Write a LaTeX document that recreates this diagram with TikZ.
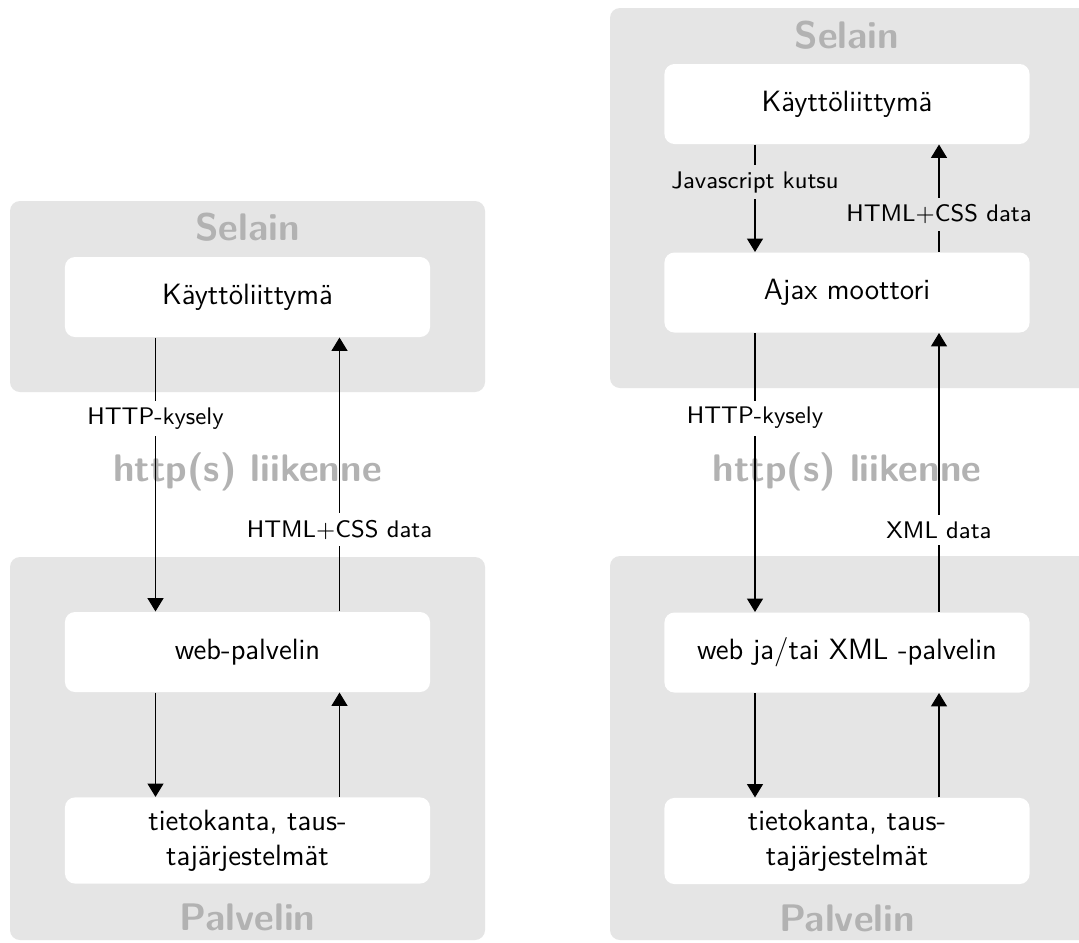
\documentclass[tikz,border=0pt]{standalone}
\usetikzlibrary{arrows.meta,calc}
\begin{document}
\begin{tikzpicture}[x=0.375pt,y=-0.375pt,font=\sffamily,
  panel/.style={fill=black!10,rounded corners=3.75pt},
  box/.style={fill=white,rounded corners=3.75pt,minimum width=136.9pt,minimum height=30pt,align=center,inner sep=0pt,font=\sffamily\fontsize{11}{13.2}\selectfont},
  title/.style={text=black!30,font=\sffamily\Large\bfseries},
  lab/.style={fill=white,font=\sffamily\small,inner sep=2.5pt},
  glab/.style={lab,fill=black!10},
  arr/.style={-{Triangle[width=6pt,length=5pt]},line width=0.4pt}]
\clip (0,0) rectangle (1079,942);
\fill[white] (0,0) rectangle (1079,942);
% left panel
\fill[panel] (10,201) rectangle (485,392);
\fill[panel] (10,557) rectangle (485,940);
\node[title] (tsel1) at (247.5,227) {Selain};
\node[title] (tpal1) at (247.5,917) {Palvelin};
\node[title] (tht1) at (247.5,472) {http(s) liikenne};
\node[box] (ku1) at (247.5,297) {Käyttöliittymä};
\node[box] (web1) at (247.5,652) {web-palvelin};
\node[box,minimum height=32.3pt] (db1) at (247.5,840.5) {tietokanta, taus-\\tajärjestelmät};
\draw[arr] ($(ku1.south)+(-92,0)$) -- node[lab,pos=0.295] {HTTP-kysely} ($(web1.north)+(-92,0)$);
\draw[arr] ($(web1.north)+(92,0)$) -- node[lab,pos=0.298] {HTML+CSS data} ($(ku1.south)+(92,0)$);
\draw[arr] ($(web1.south)+(-92,0)$) -- ($(db1.north)+(-92,0)$);
\draw[arr] ($(db1.north)+(92,0)$) -- ($(web1.south)+(92,0)$);
% right panel
\fill[panel] (610,8) rectangle (1090,388);
\fill[panel] (610,556) rectangle (1090,940);
\node[title] (tsel2) at (847,35) {Selain};
\node[title] (tpal2) at (847,918) {Palvelin};
\node[title] (tht2) at (847,472) {http(s) liikenne};
\node[box] (ku2) at (847,104) {Käyttöliittymä};
\node[box] (ajax) at (847,292.5) {Ajax moottori};
\node[box] (web2) at (847,652.5) {web ja/tai XML -palvelin};
\node[box,minimum height=32.3pt] (db2) at (847,841) {tietokanta, taus-\\tajärjestelmät};
\draw[arr] ($(ku2.south)+(-92,0)$) -- node[glab,pos=0.35] {Javascript kutsu} ($(ajax.north)+(-92,0)$);
\draw[arr] ($(ajax.north)+(92,0)$) -- node[glab,pos=0.35] {HTML+CSS data} ($(ku2.south)+(92,0)$);
\draw[arr] ($(ajax.south)+(-92,0)$) -- node[lab,pos=0.305] {HTTP-kysely} ($(web2.north)+(-92,0)$);
\draw[arr] ($(web2.north)+(92,0)$) -- node[lab,pos=0.294] {XML data} ($(ajax.south)+(92,0)$);
\draw[arr] ($(web2.south)+(-92,0)$) -- ($(db2.north)+(-92,0)$);
\draw[arr] ($(db2.north)+(92,0)$) -- ($(web2.south)+(92,0)$);
\end{tikzpicture}
\end{document}
